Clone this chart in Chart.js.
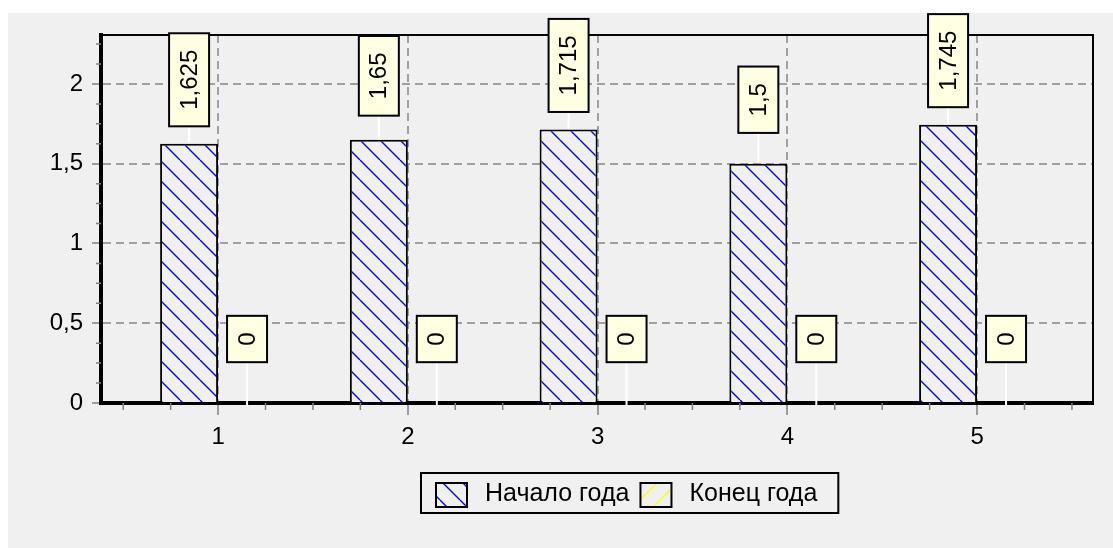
<!DOCTYPE html>
<html>
<head>
<meta charset="utf-8">
<script src="https://cdn.jsdelivr.net/npm/chart.js@4/dist/chart.umd.min.js"></script>
<style>
  html, body { margin: 0; padding: 0; background: #fff; overflow: hidden; }
  canvas { display: block; }
</style>
</head>
<body>
<canvas id="chart" width="1113" height="548"></canvas>
<script>
(function(){
  'use strict';

  // data
  const categories = [1, 2, 3, 4, 5];
  const startValues = [1.625, 1.65, 1.715, 1.5, 1.745];
  const endValues = [0, 0, 0, 0, 0];
  const yTicks = [0, 0.5, 1, 1.5, 2];
  const seriesNames = ['Начало года', 'Конец года'];

  const FONT = 'Liberation Sans, Arial, sans-serif';
  const BG = '#f0f0f0';

  Chart.defaults.font.family = FONT;
  Chart.defaults.font.size = 24;
  Chart.defaults.color = '#000';

  function fmt(v) {
    return String(v).replace('.', ',');
  }

  function makeHatch(color, forward) {
    var size = 20;
    var c = document.createElement('canvas');
    c.width = size;
    c.height = size;
    var g = c.getContext('2d');
    g.fillStyle = BG;
    g.fillRect(0, 0, size, size);
    g.strokeStyle = color;
    g.lineWidth = 1.4;
    g.beginPath();
    for (var k = -1; k <= 1; k++) {
      var o = k * size;
      if (forward) {
        g.moveTo(o, size);
        g.lineTo(o + size, 0);
      } else {
        g.moveTo(o, 0);
        g.lineTo(o + size, size);
      }
    }
    g.stroke();
    return g.createPattern(c, 'repeat');
  }

  function points(values) {
    return categories.map(function(c, i) { return {x: c, y: values[i]}; });
  }

  const backgroundPlugin = {
    id: 'background',
    beforeDraw: function(chart) {
      var ctx = chart.ctx;
      ctx.save();
      ctx.fillStyle = '#fff';
      ctx.fillRect(0, 0, chart.width, chart.height);
      ctx.fillStyle = BG;
      ctx.fillRect(8, 13, chart.width - 8, chart.height - 13);
      ctx.restore();
    }
  };

  // top/right frame and minor ticks
  const framePlugin = {
    id: 'frame',
    beforeDatasetsDraw: function(chart) {
      var ctx = chart.ctx;
      var a = chart.chartArea;
      var xs = chart.scales.x, ys = chart.scales.y;
      ctx.save();
      ctx.strokeStyle = '#000';
      ctx.lineWidth = 2;
      ctx.beginPath();
      ctx.moveTo(a.left, a.top);
      ctx.lineTo(a.right, a.top);
      ctx.lineTo(a.right, a.bottom);
      ctx.stroke();

      ctx.strokeStyle = '#808080';
      ctx.lineWidth = 1.5;
      ctx.beginPath();
      for (var v = 0.125; v < ys.max; v += 0.125) {
        if (Math.abs(v * 2 - Math.round(v * 2)) < 1e-6) continue;
        var py = ys.getPixelForValue(v);
        ctx.moveTo(a.left - 5, py);
        ctx.lineTo(a.left, py);
      }
      for (var u = 0.5; u < xs.max; u += 0.25) {
        if (Math.abs(u - Math.round(u)) < 1e-6) continue;
        var px = xs.getPixelForValue(u);
        ctx.moveTo(px, a.bottom);
        ctx.lineTo(px, a.bottom + 7);
      }
      ctx.stroke();
      ctx.restore();
    }
  };

  // yellow value boxes with rotated text
  const labelPlugin = {
    id: 'valueBoxes',
    afterDatasetsDraw: function(chart) {
      var ctx = chart.ctx;
      ctx.save();
      ctx.font = '24px ' + FONT;
      chart.data.datasets.forEach(function(ds, di) {
        var meta = chart.getDatasetMeta(di);
        meta.data.forEach(function(bar, i) {
          var text = fmt(ds.data[i].y);
          var w = ctx.measureText(text).width;
          var bw = 40, bh = w + 33;
          var cy = bar.y - 64;
          var bottom = cy + bh / 2;
          ctx.strokeStyle = '#fff';
          ctx.lineWidth = 2;
          ctx.beginPath();
          ctx.moveTo(bar.x, bottom);
          ctx.lineTo(bar.x, ds.data[i].y === 0 ? bar.y + 3 : bar.y - 1);
          ctx.stroke();

          ctx.fillStyle = '#ffffe1';
          ctx.fillRect(bar.x - bw / 2, cy - bh / 2, bw, bh);
          ctx.strokeStyle = '#000';
          ctx.strokeRect(bar.x - bw / 2, cy - bh / 2, bw, bh);

          ctx.save();
          ctx.translate(bar.x, cy);
          ctx.rotate(-Math.PI / 2);
          ctx.fillStyle = '#000';
          ctx.textAlign = 'center';
          ctx.textBaseline = 'middle';
          ctx.fillText(text, 0, 1);
          ctx.restore();
        });
      });
      ctx.restore();
    }
  };

  const legendPlugin = {
    id: 'boxLegend',
    afterDraw: function(chart) {
      var ctx = chart.ctx;
      var sets = chart.data.datasets;
      ctx.save();
      ctx.font = '25px ' + FONT;
      var widths = sets.map(function(ds) { return ctx.measureText(ds.label).width; });
      var total = 15 + sets.length * (31 + 18) + widths[0] + widths[1] + 11 + 21;
      var left = Math.round(630 - total / 2);
      var top = 473, h = 40;
      ctx.strokeStyle = '#000';
      ctx.lineWidth = 2;
      ctx.strokeRect(left, top, total, h);
      var x = left + 15;
      sets.forEach(function(ds, i) {
        ctx.fillStyle = ds.backgroundColor;
        ctx.fillRect(x, top + 10, 31, 24);
        ctx.strokeStyle = '#000';
        ctx.lineWidth = 2;
        ctx.strokeRect(x, top + 10, 31, 24);
        ctx.fillStyle = '#000';
        ctx.textBaseline = 'middle';
        ctx.fillText(ds.label, x + 49, top + 21);
        x += 49 + widths[i] + 11;
      });
      ctx.restore();
    }
  };

  new Chart(document.getElementById('chart'), {
    type: 'bar',
    data: {
      datasets: [
        {
          label: seriesNames[0],
          data: points(startValues),
          backgroundColor: makeHatch('#0000ff', false),
          borderColor: '#000',
          borderWidth: 2,
          categoryPercentage: 0.611,
          barPercentage: 1
        },
        {
          label: seriesNames[1],
          data: points(endValues),
          backgroundColor: makeHatch('#ffff00', true),
          borderColor: '#000',
          borderWidth: 2,
          categoryPercentage: 0.611,
          barPercentage: 1
        }
      ]
    },
    options: {
      responsive: false,
      animation: false,
      layout: { padding: { left: 0, top: 35, right: 20, bottom: 0 } },
      plugins: {
        legend: { display: false },
        tooltip: { enabled: false }
      },
      scales: {
        x: {
          type: 'linear',
          min: 0.383,
          max: 5.611,
          offset: false,
          afterBuildTicks: function(s) { s.ticks = categories.map(function(v) { return {value: v}; }); },
          afterFit: function(s) { s.height = 145; },
          grid: { offset: false, color: '#a0a0a0', lineWidth: 2, tickLength: 12, tickColor: '#808080', tickWidth: 1.5 },
          border: { color: '#000', width: 4, dash: [8, 5] },
          ticks: { padding: 8, callback: function(v) { return fmt(v); } }
        },
        y: {
          min: 0,
          max: 2.307,
          afterBuildTicks: function(s) { s.ticks = yTicks.map(function(v) { return {value: v}; }); },
          afterFit: function(s) { s.width = 101; },
          grid: { color: '#a0a0a0', lineWidth: 2, tickLength: 9, tickColor: '#808080', tickWidth: 1.5 },
          border: { color: '#000', width: 4, dash: [8, 5] },
          ticks: { padding: 9, callback: function(v) { return fmt(v); } }
        }
      }
    },
    plugins: [backgroundPlugin, framePlugin, labelPlugin, legendPlugin]
  });

}());
</script>
</body>
</html>
